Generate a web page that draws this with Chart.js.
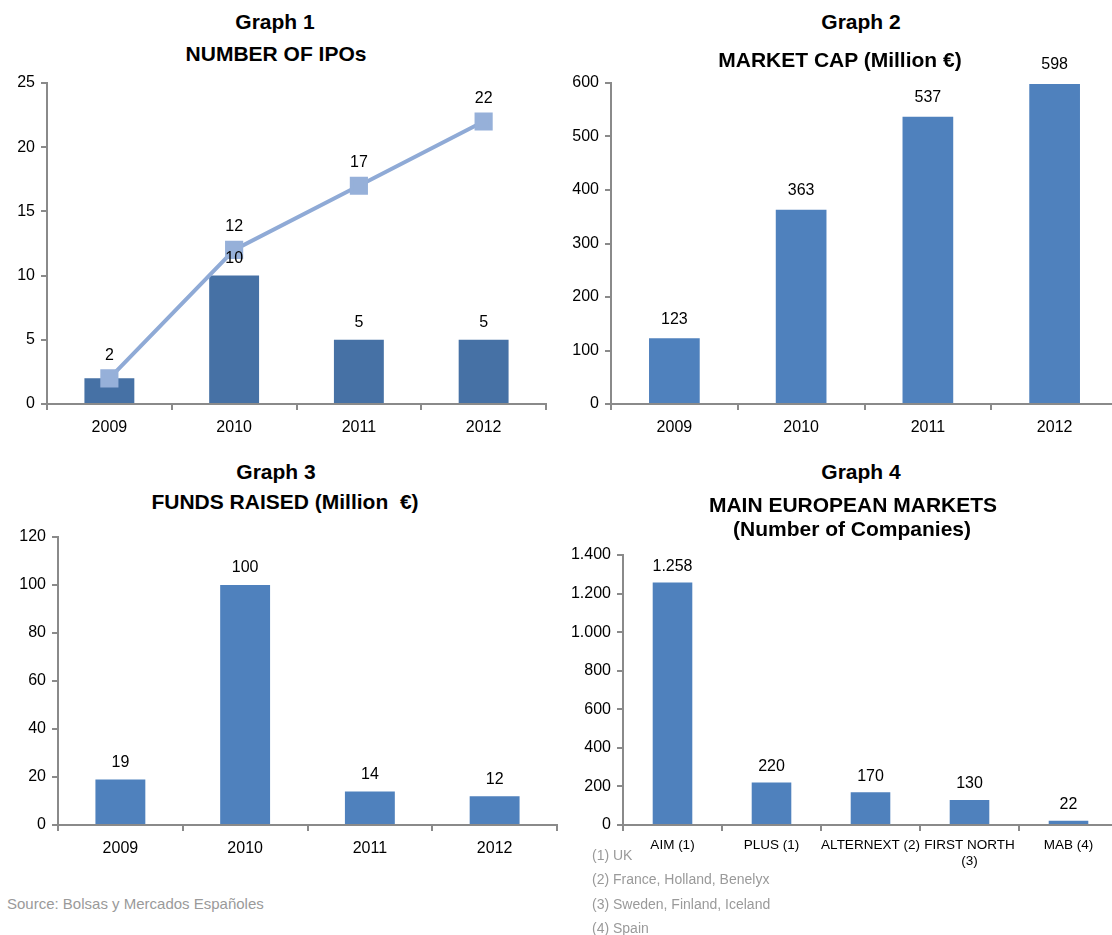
<!DOCTYPE html>
<html>
<head>
    <title>BME MAB charts</title>
    <meta charset="UTF-8">
    <style>
        html, body {
            margin: 0;
            padding: 0;
            width: 1112px;
            height: 935px;
            overflow: hidden; /* chart 2 and 4 axes run a few px past the right edge */
            background: #fff;
            font-family: "Liberation Sans", Arial, Helvetica, sans-serif;
        }
        canvas, .title, .note {
            position: absolute;
        }
        .title {
            width: 420px;
            text-align: center;
            font-weight: bold;
            font-size: 21px;
            line-height: 24px;
            color: #000;
            white-space: nowrap;
        }
        .note {
            font-size: 14px;
            line-height: 18px;
            color: #9a9a9a;
            white-space: nowrap;
        }
    </style>
    <script src="https://cdn.jsdelivr.net/npm/chart.js@4"></script>
</head>
<body>

<div class="title" style="left:65px; top:10px;">Graph 1</div>
<div class="title" style="left:66px; top:42px;">NUMBER OF IPOs</div>
<canvas id="chartIpos" width="560" height="380" style="left:0; top:60px;"></canvas>

<div class="title" style="left:651px; top:10px;">Graph 2</div>
<div class="title" style="left:630px; top:48px;">MARKET CAP (Million €)</div>
<canvas id="chartMarketCap" width="562" height="400" style="left:556px; top:40px;"></canvas>

<div class="title" style="left:66px; top:460px;">Graph 3</div>
<div class="title" style="left:75px; top:490px;">FUNDS RAISED (Million&nbsp;&nbsp;€)</div>
<canvas id="chartFunds" width="560" height="345" style="left:0; top:520px;"></canvas>

<div class="title" style="left:651px; top:460px;">Graph 4</div>
<div class="title" style="left:643px; top:493px;">MAIN EUROPEAN MARKETS</div>
<div class="title" style="left:642px; top:517px;">(Number of Companies)</div>
<canvas id="chartMarkets" width="562" height="340" style="left:556px; top:530px;"></canvas>

<div class="note" style="left:7px; top:895px; font-size:15px;">Source: Bolsas y Mercados Españoles</div>
<div class="note" style="left:592px; top:846px;">(1) UK</div>
<div class="note" style="left:592px; top:870px;">(2) France, Holland, Benelyx</div>
<div class="note" style="left:592px; top:895px;">(3) Sweden, Finland, Iceland</div>
<div class="note" style="left:592px; top:919px;">(4) Spain</div>

<script>
    // data
    const years = ['2009', '2010', '2011', '2012'];
    const iposPerYear = [2, 10, 5, 5];
    const iposCumulative = [2, 12, 17, 22];
    const marketCap = [123, 363, 537, 598];
    const fundsRaised = [19, 100, 14, 12];
    const markets = ['AIM (1)', 'PLUS (1)', 'ALTERNEXT (2)', ['FIRST NORTH', '(3)'], 'MAB (4)'];
    const companies = [1258, 220, 170, 130, 22];

    // y axis ranges [max, step]
    const iposAxis = [25, 5];
    const marketCapAxis = [600, 100];
    const fundsAxis = [120, 20];
    const marketsAxis = [1400, 200];

    const FONT = '"Liberation Sans", Arial, Helvetica, sans-serif';
    const AXIS_GREY = '#8a8a8a';
    const DARK_BLUE = '#4671a5';
    const BLUE = '#4f81bd';
    const LIGHT_BLUE = 'rgb(143, 170, 214)';

    // 1258 -> "1.258"
    function dotThousands(v) {
        return String(v).replace(/\B(?=(\d{3})+(?!\d))/g, '.');
    }

    // draws the value above every bar / point
    const valueLabels = {
        id: 'valueLabels',
        afterDatasetsDraw(chart) {
            const ctx = chart.ctx;
            ctx.save();
            ctx.font = '16px ' + FONT;
            ctx.fillStyle = '#000';
            ctx.textAlign = 'center';
            ctx.textBaseline = 'middle';
            const done = [];
            chart.data.datasets.forEach((ds, i) => {
                const meta = chart.getDatasetMeta(i);
                meta.data.forEach((el, j) => {
                    const key = j + ':' + ds.data[j];
                    if (done.includes(key)) return; // same value already labelled here
                    done.push(key);
                    ctx.fillText(dotThousands(ds.data[j]), el.x, el.y - ds.labelOffset);
                });
            });
            ctx.restore();
        }
    };

    function makeScales(axis, yWidth, xHeight, xFontSize, xPadding) {
        return {
            x: {
                grid: {
                    drawOnChartArea: false,
                    drawTicks: true,
                    tickLength: 6,
                    color: AXIS_GREY,
                    lineWidth: 2,
                    offset: true
                },
                border: { color: AXIS_GREY, width: 2 },
                ticks: {
                    color: '#000',
                    font: { family: FONT, size: xFontSize, lineHeight: 1.15 },
                    padding: xPadding,
                    maxRotation: 0,
                    minRotation: 0,
                    autoSkip: false
                },
                afterFit: function (scale) { scale.height = xHeight; }
            },
            y: {
                min: 0,
                max: axis[0],
                grid: {
                    drawOnChartArea: false,
                    drawTicks: true,
                    tickLength: 6,
                    color: AXIS_GREY,
                    lineWidth: 2
                },
                border: { color: AXIS_GREY, width: 2 },
                ticks: {
                    stepSize: axis[1],
                    color: '#000',
                    font: { family: FONT, size: 16 },
                    padding: 6,
                    callback: function (value) { return dotThousands(value); }
                },
                afterFit: function (scale) { scale.width = yWidth; }
            }
        };
    }

    function baseOptions(padding, scales) {
        return {
            responsive: false,
            animation: false,
            layout: { padding: padding },
            plugins: {
                legend: { display: false },
                tooltip: { enabled: false }
            },
            scales: scales
        };
    }

    function barSet(values, color, offset) {
        return {
            type: 'bar',
            data: values,
            backgroundColor: color,
            categoryPercentage: 1,
            barPercentage: 0.4,
            labelOffset: offset,
            order: 1
        };
    }

    // Graph 1
    new Chart(document.getElementById('chartIpos'), {
        type: 'bar',
        data: {
            labels: years,
            datasets: [{
                type: 'line',
                data: iposCumulative,
                borderColor: LIGHT_BLUE,
                borderWidth: 4,
                tension: 0,
                pointStyle: 'rect',
                pointRadius: 10,
                pointBackgroundColor: 'rgb(150, 176, 217)',
                pointBorderColor: 'rgb(150, 176, 217)',
                labelOffset: 23,
                order: 0
            }, barSet(iposPerYear, DARK_BLUE, 17)]
        },
        options: baseOptions({ top: 23, right: 11, left: 0, bottom: 0 }, makeScales(iposAxis, 47, 36, 16, 8)),
        plugins: [valueLabels]
    });

    // Graph 2
    new Chart(document.getElementById('chartMarketCap'), {
        type: 'bar',
        data: {
            labels: years,
            datasets: [barSet(marketCap, BLUE, 19)]
        },
        options: baseOptions({ top: 43, right: 0, left: 0, bottom: 0 }, makeScales(marketCapAxis, 55, 36, 16, 8)),
        plugins: [valueLabels]
    });

    // Graph 3
    new Chart(document.getElementById('chartFunds'), {
        type: 'bar',
        data: {
            labels: years,
            datasets: [barSet(fundsRaised, BLUE, 17)]
        },
        options: baseOptions({ top: 17, right: 3, left: 0, bottom: 0 }, makeScales(fundsAxis, 58, 40, 16, 8)),
        plugins: [valueLabels]
    });

    // Graph 4
    new Chart(document.getElementById('chartMarkets'), {
        type: 'bar',
        data: {
            labels: markets,
            datasets: [barSet(companies, BLUE, 16)]
        },
        options: baseOptions({ top: 25, right: 0, left: 0, bottom: 0 }, makeScales(marketsAxis, 67, 45, 13.5, 7)),
        plugins: [valueLabels]
    });
</script>

</body>
</html>
